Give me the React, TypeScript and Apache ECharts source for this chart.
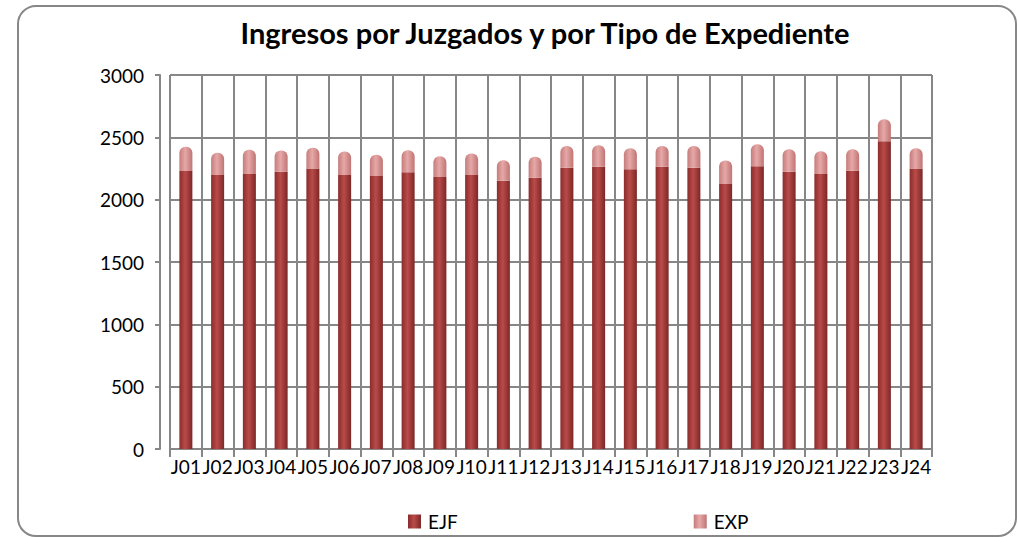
import React, { useEffect, useRef } from "react";
import * as echarts from "echarts";

const categories = ["J01","J02","J03","J04","J05","J06","J07","J08","J09","J10","J11","J12","J13","J14","J15","J16","J17","J18","J19","J20","J21","J22","J23","J24"];
const ejf = [2230,2198,2206,2224,2250,2198,2190,2219,2181,2198,2152,2176,2256,2264,2243,2264,2256,2125,2269,2224,2205,2232,2469,2251];
const exp = [194,178,194,171,166,189,170,178,168,173,165,168,174,173,170,166,174,190,176,181,184,173,176,162];
const yTicks = { min: 0, max: 3000, interval: 500 };

const FONT = "Lato, 'Open Sans', sans-serif";

export default function App() {
  const ref = useRef<HTMLDivElement>(null);
  useEffect(() => {
    const chart = echarts.init(ref.current!, null, { renderer: "svg" });
    const grad = (a: string, b: string, c: string) =>
      new echarts.graphic.LinearGradient(0, 0, 1, 0, [
        { offset: 0, color: a },
        { offset: 0.45, color: b },
        { offset: 1, color: c },
      ]);
    chart.setOption({
      animation: false,
      backgroundColor: "#ffffff",
      title: {
        text: "Ingresos por Juzgados y por Tipo de Expediente",
        left: 540,
        top: 13,
        textAlign: "center",
        textStyle: { fontFamily: FONT, fontSize: 29, fontWeight: "bold", color: "#000" },
      },
      legend: {
        left: 403,
        top: 507,
        itemWidth: 13,
        itemHeight: 14,
        itemGap: 236,
        icon: "rect",
        textStyle: { fontFamily: FONT, fontSize: 19, color: "#000", padding: [0, 0, 0, 2] },
        data: ["EJF", "EXP"],
      },
      grid: { left: 170, right: 86, top: 75, bottom: 88 },
      xAxis: {
        type: "category",
        data: categories,
        boundaryGap: true,
        axisLine: { show: true, lineStyle: { color: "#878787", width: 2 } },
        axisTick: { show: true, length: 8, lineStyle: { color: "#878787", width: 2 } },
        splitLine: { show: true, lineStyle: { color: "#878787", width: 2 } },
        axisLabel: { fontFamily: FONT, fontSize: 19, color: "#000", margin: 8, interval: 0 },
      },
      yAxis: {
        type: "value",
        min: yTicks.min,
        max: yTicks.max,
        interval: yTicks.interval,
        offset: 10,
        axisLine: { show: true, lineStyle: { color: "#878787", width: 2 } },
        axisTick: { show: true, length: 5, lineStyle: { color: "#878787", width: 2 } },
        splitLine: { show: true, lineStyle: { color: "#878787", width: 2 } },
        axisLabel: {
          fontFamily: FONT,
          fontSize: 19,
          color: "#000",
          margin: 16,
          formatter: (v: number) => String(v),
        },
      },
      series: [
        {
          name: "EJF",
          type: "bar",
          stack: "total",
          data: ejf,
          barWidth: "41%",
          itemStyle: { color: grad("#8a2c2c", "#b94b49", "#7c2727") },
        },
        {
          name: "EXP",
          type: "bar",
          stack: "total",
          data: exp,
          barWidth: "41%",
          itemStyle: {
            color: grad("#c47c7b", "#e6a8a7", "#bf7574"),
            borderRadius: [6, 6, 0, 0],
          },
        },
      ],
      graphic: [
        {
          type: "rect",
          shape: { x: 18, y: 6, width: 998, height: 530, r: 18 },
          style: { fill: "none", stroke: "#878787", lineWidth: 2 },
          silent: true,
        },
      ],
    });
    return () => chart.dispose();
  }, []);
  return (
    <div
      ref={ref}
      style={{ position: "fixed", left: 0, top: 0, width: 1018, height: 537 }}
    />
  );
}
